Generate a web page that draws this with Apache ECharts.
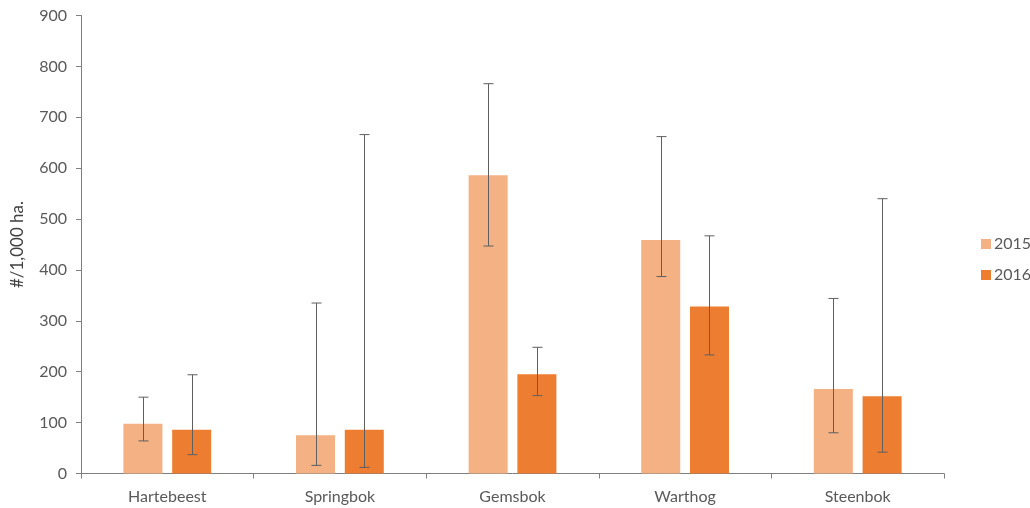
<!DOCTYPE html>
<html>
<head>
<meta charset="utf-8">
<script src="https://cdn.jsdelivr.net/npm/echarts@6/dist/echarts.min.js"></script>
<style>html,body{margin:0;padding:0;background:#fff}#c{width:1030px;height:508px}</style>
</head>
<body>
<div id="c"></div>
<script>
const categories = ['Hartebeest', 'Springbok', 'Gemsbok', 'Warthog', 'Steenbok'];
const seriesNames = ['2015', '2016'];
const values2015 = [98, 75, 586, 459, 166];
const values2016 = [86, 86, 195, 328, 152];
const low2015 = [64, 16, 447, 387, 80];
const high2015 = [150, 335, 766, 662, 344];
const low2016 = [37, 12, 153, 233, 42];
const high2016 = [194, 666, 248, 467, 540];
const yTicks = { min: 0, max: 900, interval: 100 };

const colors = ['#F4B183', '#ED7D31'];
const BAR_W = 0.226, BAR_GAP = 0.25;
const textColor = '#595959';
const font = 'Lato, "Open Sans", sans-serif';

function errorSeries(idx, lows, highs) {
  const data = categories.map((c, i) => [i, lows[i], highs[i]]);
  return {
    type: 'custom',
    name: seriesNames[idx] + ' err',
    silent: true,
    z: 10,
    data: data,
    encode: { x: 0, y: [1, 2] },
    renderItem: function (params, api) {
      const x = api.value(0);
      const lo = api.coord([x, api.value(1)]);
      const hi = api.coord([x, api.value(2)]);
      const band = api.size([1, 0])[0];
      const bw = band * BAR_W;
      const off = (bw + bw * BAR_GAP) / 2 * (idx === 0 ? -1 : 1);
      const cx = Math.round(lo[0] + off) + 0.5;
      const cap = 5;
      const style = { stroke: '#5f5f5f', lineWidth: 1 };
      return {
        type: 'group',
        children: [
          { type: 'line', shape: { x1: cx, y1: hi[1], x2: cx, y2: lo[1] }, style: style },
          { type: 'line', shape: { x1: cx - cap, y1: hi[1], x2: cx + cap, y2: hi[1] }, style: style },
          { type: 'line', shape: { x1: cx - cap, y1: lo[1], x2: cx + cap, y2: lo[1] }, style: style }
        ]
      };
    }
  };
}

const chart = echarts.init(document.getElementById('c'));
chart.setOption({
  animation: false,
  textStyle: { fontFamily: font },
  grid: { left: 81, right: 86, top: 15.5, bottom: 34.5, containLabel: false },
  legend: {
    orient: 'vertical',
    left: 976, top: 231,
    itemWidth: 10, itemHeight: 10, itemGap: 15,
    icon: 'rect',
    data: seriesNames,
    textStyle: { color: textColor, fontSize: 16, fontFamily: font, padding: [0, 0, 0, -2] }
  },
  xAxis: {
    type: 'category',
    data: categories,
    axisLine: { lineStyle: { color: '#7f7f7f', width: 1 } },
    axisTick: { show: true, length: 5, lineStyle: { color: '#7f7f7f' }, alignWithLabel: false },
    axisLabel: { color: textColor, fontSize: 16, margin: 15, fontFamily: font }
  },
  yAxis: {
    type: 'value',
    min: yTicks.min, max: yTicks.max, interval: yTicks.interval,
    name: '#/1,000 ha.',
    nameLocation: 'middle',
    nameGap: 55,
    nameTextStyle: { color: '#404040', fontSize: 17, fontFamily: font },
    axisLine: { show: true, lineStyle: { color: '#7f7f7f', width: 1 } },
    axisTick: { show: true, length: 5, lineStyle: { color: '#7f7f7f' } },
    splitLine: { show: false },
    axisLabel: { color: textColor, fontSize: 16, margin: 14, fontFamily: font }
  },
  series: [
    { type: 'bar', name: seriesNames[0], data: values2015, barWidth: (BAR_W * 100) + '%', barGap: (BAR_GAP * 100) + '%', itemStyle: { color: colors[0] } },
    { type: 'bar', name: seriesNames[1], data: values2016, barWidth: (BAR_W * 100) + '%', barGap: (BAR_GAP * 100) + '%', itemStyle: { color: colors[1] } },
    errorSeries(0, low2015, high2015),
    errorSeries(1, low2016, high2016)
  ]
});
</script>
</body>
</html>
